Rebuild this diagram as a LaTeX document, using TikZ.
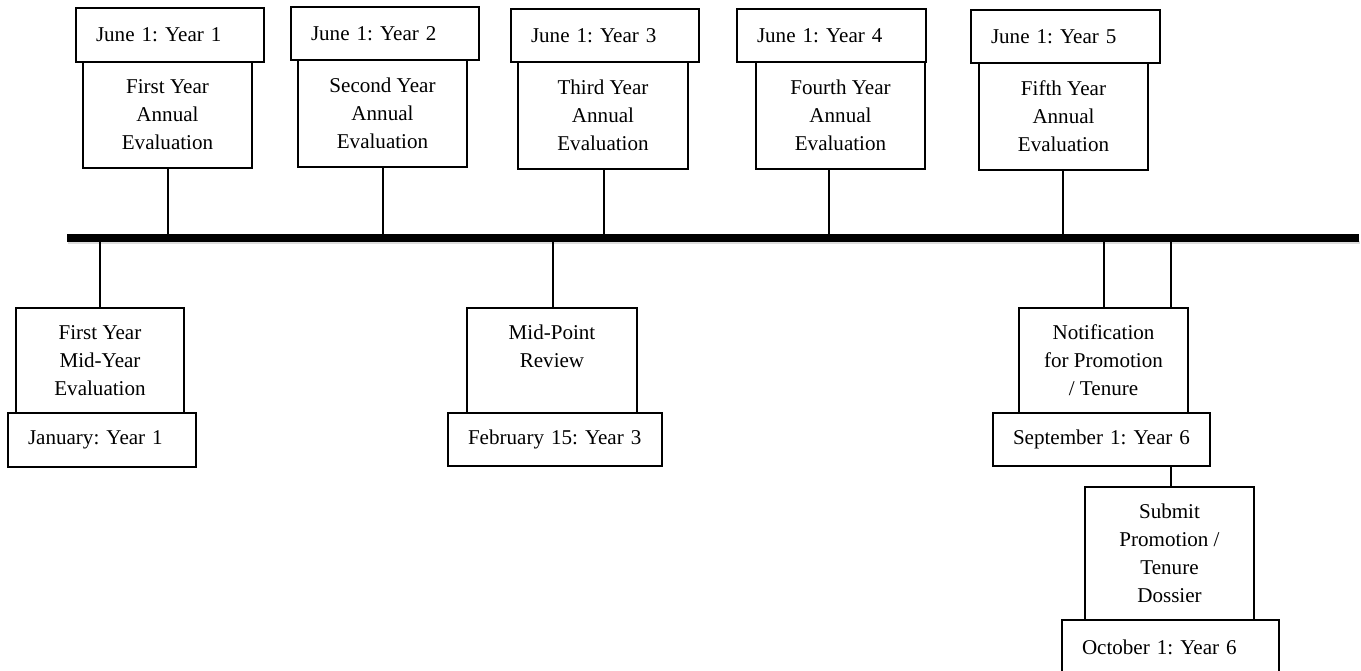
\documentclass[tikz,border=0pt]{standalone}
\usepackage{fontspec}
\setmainfont{Liberation Serif}
\frenchspacing
\tikzset{
  boxbase/.style={draw=black, line width=0.8pt, fill=white, rectangle, outer sep=0pt,
    font=\fontsize{15.8}{21}\selectfont},
  evalbox/.style={boxbase, align=center},
  datebox/.style={boxbase, align=left, inner xsep=15pt},
  conn/.style={draw=black, line width=0.8pt},
  bar/.style={draw=black, line width=5.6pt},
  barshadow/.style={draw=black!30, line width=2.5pt, opacity=0.45}
}
% name, x1, y1, x2, y2, text  (pixel coordinates, y downwards)
\newcommand\evbox[6]{\node[evalbox, minimum width={(#4-#2)*0.75pt}, minimum height={(#5-#3)*0.75pt}] (#1) at ({(#2+#4)/2},{(#3+#5)/2}) {#6};}
\newcommand\dtbox[6]{\node[datebox, minimum height={(#5-#3)*0.75pt}, text width={(#4-#2-40)*0.75pt}] (#1) at ({(#2+#4)/2},{(#3+#5)/2}) {\mbox{#6}};}
\begin{document}
\begin{tikzpicture}[x=0.75pt, y=-0.75pt]
\useasboundingbox (0,0) rectangle (1361,671);
\fill[white] (0,0) rectangle (1361,671);
\clip (0,0) rectangle (1361,671);

% timeline bar
\coordinate (barL) at (67,238);
\coordinate (barR) at (1359,238);
\draw[barshadow] ([yshift=-3.5pt,xshift=1pt]barL) -- ([yshift=-3.5pt,xshift=1pt]barR);
\draw[bar] (barL) -- (barR);

% top events
\dtbox{d1}{76}{8}{264}{62}{June 1: Year 1}
\evbox{e1}{83}{62}{252}{168}{First Year\\Annual\\Evaluation}
\dtbox{d2}{291}{7}{479}{60}{June 1: Year 2}
\evbox{e2}{298}{60}{467}{167}{Second Year\\Annual\\Evaluation}
\dtbox{d3}{511}{9}{699}{62}{June 1: Year 3}
\evbox{e3}{518}{62}{688}{169}{Third Year\\Annual\\Evaluation}
\dtbox{d4}{737}{9}{926}{62}{June 1: Year 4}
\evbox{e4}{756}{62}{925}{169}{Fourth Year\\Annual\\Evaluation}
\dtbox{d5}{971}{10}{1160}{63}{June 1: Year 5}
\evbox{e5}{979}{63}{1148}{170}{Fifth Year\\Annual\\Evaluation}

\coordinate (t1) at (168,234);
\coordinate (t2) at (383,234);
\coordinate (t3) at (604,234);
\coordinate (t4) at (829,234);
\coordinate (t5) at (1063,234);
\draw[conn] (e1.south -| t1) -- (t1);
\draw[conn] (e2.south -| t2) -- (t2);
\draw[conn] (e3.south -| t3) -- (t3);
\draw[conn] (e4.south -| t4) -- (t4);
\draw[conn] (e5.south -| t5) -- (t5);

% bottom events
\evbox{m1}{16}{308}{184}{413}{First Year\\Mid-Year\\Evaluation}
\dtbox{j1}{8}{413}{196}{467}{January: Year 1}
\evbox{mp}{467}{308}{637}{413}{Mid-Point\\Review\\\phantom{X}}
\dtbox{f3}{448}{413}{662}{466}{February 15: Year 3}
\evbox{nt}{1019}{308}{1188}{413}{Notification\\for Promotion\\/ Tenure}
\dtbox{s6}{993}{413}{1210}{466}{September 1: Year 6}
\evbox{sb}{1085}{487}{1254}{620}{Submit\\Promotion /\\Tenure\\Dossier}
\dtbox{o6}{1062}{620}{1279}{674}{October 1: Year 6}

\coordinate (u1) at (100,242);
\coordinate (u2) at (553,242);
\coordinate (u3) at (1104,242);
\coordinate (u4) at (1171,242);
\draw[conn] (u1) -- (u1 |- m1.north);
\draw[conn] (u2) -- (u2 |- mp.north);
\draw[conn] (u3) -- (u3 |- nt.north);
\draw[conn] (u4) -- (u4 |- nt.north);
\draw[conn] (s6.south -| u4) -- (sb.north -| u4);
\end{tikzpicture}
\end{document}
